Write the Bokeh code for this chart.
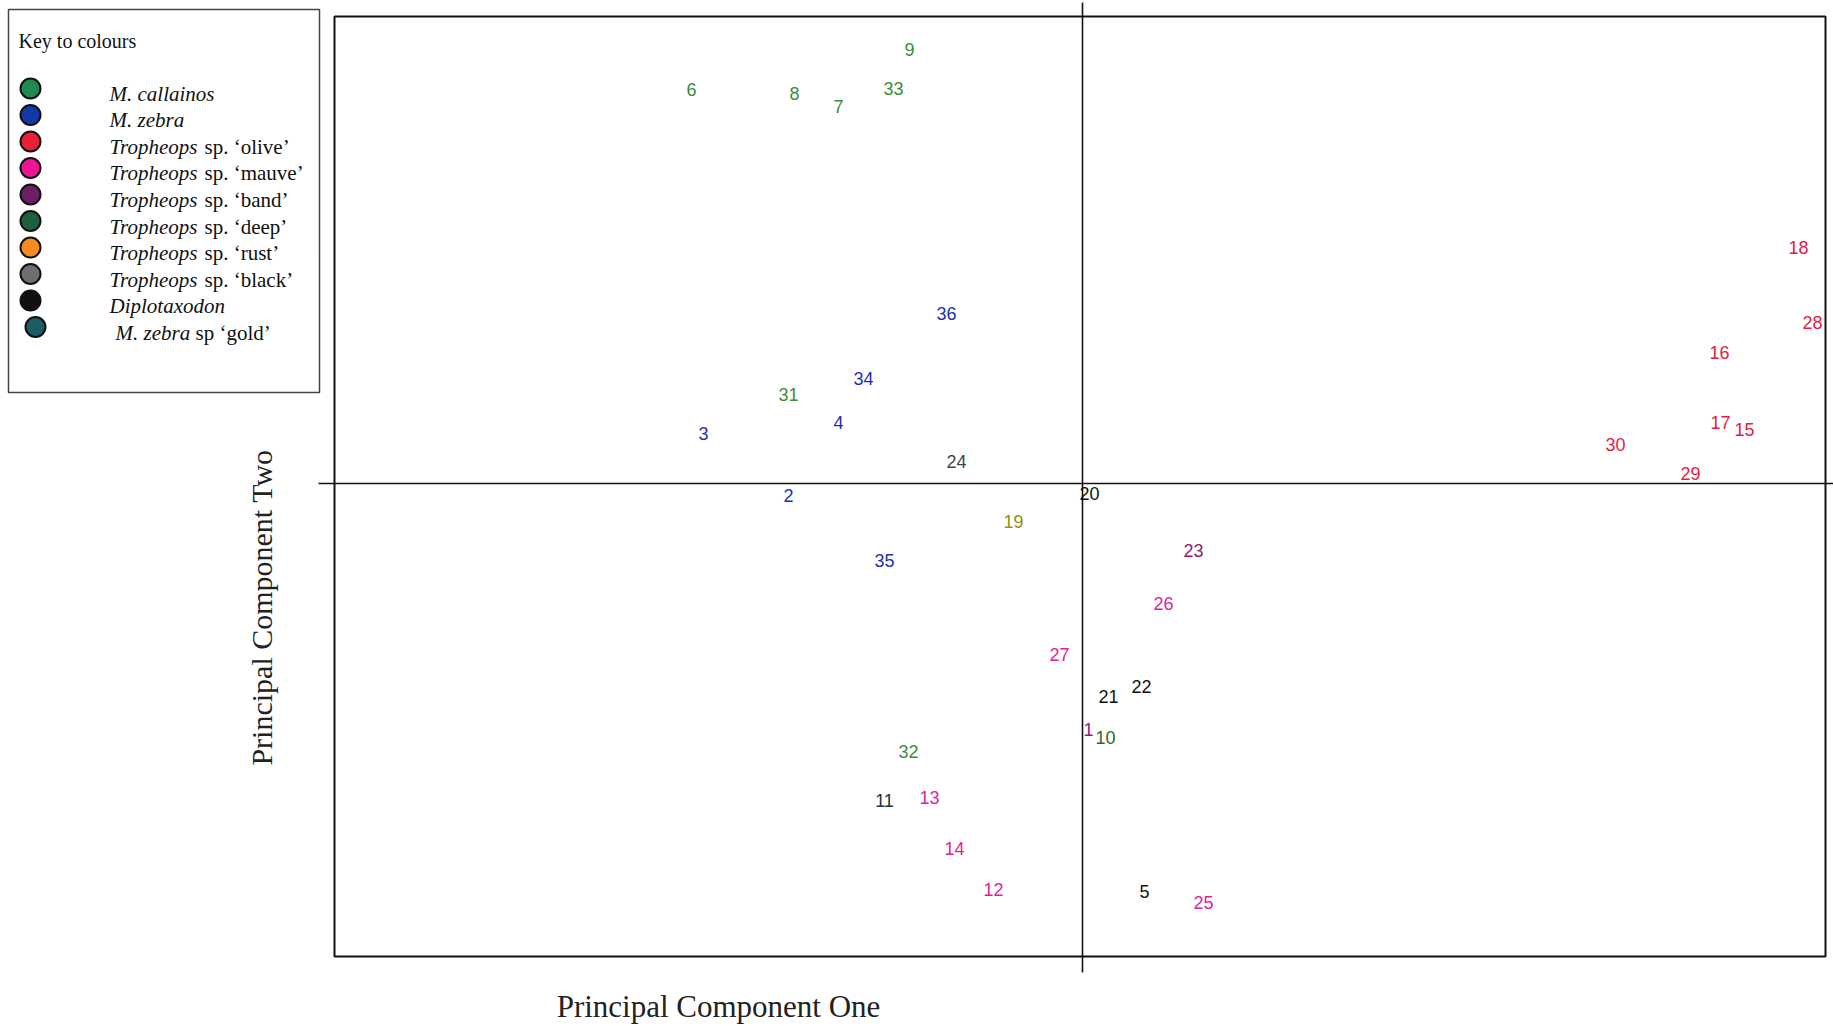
from bokeh.plotting import figure
from bokeh.models import Range1d, ColumnDataSource
from bokeh.core.properties import value
from bokeh.embed import file_html
from bokeh.resources import INLINE

# ---- data: principal component scores ----
specimen_ids = [str(i) for i in range(1, 37)]
pc1 = [0.06, -2.94, -3.79, -2.44, 0.62, -3.91, -2.44, -2.88, -1.73, 0.23,
       -1.98, -0.89, -1.53, -1.28, 6.62, 6.37, 6.38, 7.16, -0.69, 0.07,
       0.26, 0.59, 1.11, -1.26, 1.21, 0.81, -0.23, 7.30, 6.08, 5.33,
       -2.94, -1.74, -1.89, -2.19, -1.98, -1.36]
pc2 = [-2.46, -0.12, 0.50, 0.61, -4.08, 3.94, 3.77, 3.90, 4.34, -2.54,
       -3.17, -4.06, -3.14, -3.65, 0.54, 1.31, 0.61, 2.36, -0.38, -0.10,
       -2.13, -2.03, -0.67, 0.22, -4.19, -1.20, -1.71, 1.61, 0.10, 0.39,
       0.89, -2.68, 3.95, 1.05, -0.77, 1.70]
group = ["band", "zebra", "zebra", "zebra", "diplo", "callainos", "callainos", "callainos", "callainos", "deep",
         "gold", "mauve", "mauve", "mauve", "olive", "olive", "olive", "olive", "rust", "diplo",
         "diplo", "diplo", "band", "black", "mauve", "mauve", "mauve", "olive", "olive", "olive",
         "callainos", "callainos", "callainos", "zebra", "zebra", "zebra"]

# legend (key to colours)
key_groups = ["callainos", "zebra", "olive", "mauve", "band", "deep", "rust", "black", "diplo", "gold"]
key_italic = ["M. callainos", "M. zebra", "Tropheops", "Tropheops", "Tropheops", "Tropheops",
              "Tropheops", "Tropheops", "Diplotaxodon", "M. zebra"]
key_regular = ["", "", "sp. \u2018olive\u2019", "sp. \u2018mauve\u2019", "sp. \u2018band\u2019",
               "sp. \u2018deep\u2019", "sp. \u2018rust\u2019", "sp. \u2018black\u2019", "", "sp \u2018gold\u2019"]

key_colour = {"callainos": "#1f8a4c", "zebra": "#1438a8", "olive": "#ec1f38", "mauve": "#ec1596",
              "band": "#6c1f62", "deep": "#1e6040", "rust": "#f58a1f", "black": "#6f6f6f",
              "diplo": "#111111", "gold": "#1d5c66"}
label_colour = {"callainos": "#3a8c3a", "zebra": "#1a2fb4", "olive": "#e21c44", "mauve": "#e0229c",
                "band": "#8e1c72", "deep": "#2b6a28", "rust": "#9c8c12", "black": "#3c4450",
                "diplo": "#111111", "gold": "#27343c"}

# ---- geometry (layout) ----
W, H = 1833, 1026
PX = 100.0                     # pixels per PC unit
X0, Y0 = 1082, 483             # canvas position of the origin
XMIN, XMAX = -X0 / PX, (W - X0) / PX
YMAX, YMIN = Y0 / PX, -(H - Y0) / PX


def px2x(px):
    return XMIN + px / PX


def py2y(py):
    return YMAX - py / PX


p = figure(width=W, height=H, output_backend="svg", toolbar_location=None,
           x_range=Range1d(XMIN, XMAX), y_range=Range1d(YMIN, YMAX),
           min_border=0, x_axis_type=None, y_axis_type=None)
p.grid.visible = False
p.outline_line_color = None
p.background_fill_color = "white"

# plot frame box
p.quad(left=[px2x(334)], right=[px2x(1825)], top=[py2y(16)], bottom=[py2y(956)],
       fill_color=None, line_color="#111111", line_width=2)
# zero lines
p.segment(x0=[0], y0=[py2y(2)], x1=[0], y1=[py2y(972)], line_color="#111111", line_width=1.6)
p.segment(x0=[px2x(318)], y0=[0], x1=[px2x(W)], y1=[0], line_color="#111111", line_width=1.6)

# point labels
src = ColumnDataSource(dict(x=pc1, y=pc2, t=specimen_ids,
                            c=[label_colour[g] for g in group]))
p.text(x="x", y="y", text="t", source=src, text_color="c",
       text_font=value("Liberation Sans Narrow, Arial Narrow, Liberation Sans"),
       text_font_size="18px", text_align="center", text_baseline="middle")

# axis titles
p.text(x=[px2x(718)], y=[py2y(1006)], text=["Principal Component One"],
       text_font=value("Liberation Serif"), text_font_size="31px",
       text_align="center", text_baseline="middle", text_color="#222222")
p.text(x=[px2x(261)], y=[py2y(607)], text=["Principal Component Two"],
       text_font=value("Liberation Serif"), text_font_size="30px", angle=1.5708,
       text_align="center", text_baseline="middle", text_color="#222222")

# key box
p.quad(left=[px2x(8)], right=[px2x(319)], top=[py2y(9)], bottom=[py2y(392)],
       fill_color=None, line_color="#444444", line_width=1.5)
p.text(x=[px2x(18)], y=[py2y(40)], text=["Key to colours"],
       text_font=value("Liberation Serif"), text_font_size="20px",
       text_align="left", text_baseline="middle", text_color="#111111")

n = len(key_groups)
cx = [px2x(35 if i == n - 1 else 30) for i in range(n)]
cy = [py2y(88 + 26.5 * i) for i in range(n)]
ty = [py2y(93 + 26.6 * i) for i in range(n)]
p.scatter(x=cx, y=cy, size=20, fill_color=[key_colour[g] for g in key_groups],
          line_color="#111111", line_width=2)
tx_it = [px2x(115 if i == n - 1 else 109) for i in range(n)]
p.text(x=tx_it, y=ty, text=key_italic, text_font=value("Liberation Serif"),
       text_font_style="italic", text_font_size="21px", text_align="left",
       text_baseline="middle", text_color="#111111")
reg_idx = [i for i in range(n) if key_regular[i]]
tx_reg = [px2x(195 if i == n - 1 else 204) for i in reg_idx]
p.text(x=tx_reg, y=[ty[i] for i in reg_idx], text=[key_regular[i] for i in reg_idx],
       text_font=value("Liberation Serif"), text_font_size="21px", text_align="left",
       text_baseline="middle", text_color="#111111")

open("out.html", "w").write(file_html(p, INLINE))
